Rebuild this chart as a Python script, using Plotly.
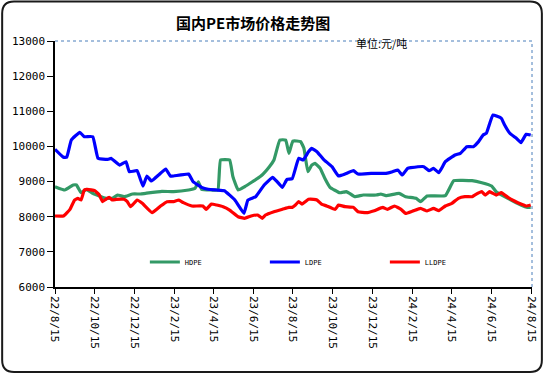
import plotly.graph_objects as go

# ---------------- data ----------------
hdpe_dates = ["2022-08-15","2022-08-30","2022-09-12","2022-09-17","2022-09-24","2022-10-02","2022-10-12",
              "2022-10-22","2022-11-01","2022-11-11","2022-11-19","2022-11-29","2022-12-12","2022-12-24",
              "2023-01-01","2023-01-26","2023-02-13","2023-03-08","2023-03-18","2023-03-23","2023-03-28",
              "2023-04-12","2023-04-22","2023-04-26","2023-05-10","2023-05-15","2023-05-23","2023-06-02",
              "2023-06-14","2023-06-27","2023-07-10","2023-07-17","2023-07-26","2023-08-04","2023-08-09",
              "2023-08-15","2023-08-27","2023-09-01","2023-09-07","2023-09-13","2023-09-18","2023-09-26",
              "2023-10-03","2023-10-11","2023-10-26","2023-11-05","2023-11-10","2023-11-18","2023-12-01",
              "2023-12-21","2023-12-28","2024-01-05","2024-01-25","2024-02-04","2024-02-20","2024-02-27",
              "2024-03-08","2024-04-05","2024-04-18","2024-05-16","2024-05-31","2024-06-15","2024-06-22",
              "2024-07-10","2024-07-30","2024-08-09","2024-08-14"]
hdpe_vals = [8853,8760,8902,8902,8683,8779,8665,
             8590,8523,8523,8617,8570,8646,8646,
             8665,8722,8712,8760,8807,8995,8779,
             8760,8760,9614,9614,9140,8760,8853,
             8995,9158,9424,9614,10183,10183,9803,
             10155,10136,9946,9280,9470,9519,9376,
             9092,8836,8683,8712,8665,8570,8617,
             8617,8646,8598,8665,8570,8523,8428,
             8590,8598,9025,9025,8968,8873,8712,
             8523,8333,8266,8266]

ldpe_dates = ["2022-08-15","2022-08-28","2022-09-02","2022-09-09","2022-09-22","2022-09-29","2022-10-12",
              "2022-10-20","2022-11-04","2022-11-09","2022-11-22","2022-12-02","2022-12-07","2022-12-19",
              "2022-12-28","2023-01-03","2023-01-10","2023-01-21","2023-02-01","2023-02-08","2023-02-13",
              "2023-03-08","2023-03-15","2023-03-28","2023-04-07","2023-04-20","2023-05-02","2023-05-18",
              "2023-06-01","2023-06-07","2023-06-19","2023-07-02","2023-07-15","2023-07-22","2023-07-30",
              "2023-08-06","2023-08-14","2023-08-24","2023-08-31","2023-09-08","2023-09-13","2023-09-21",
              "2023-10-01","2023-10-14","2023-10-24","2023-11-03","2023-11-16","2023-11-23","2023-12-13",
              "2024-01-05","2024-01-15","2024-01-23","2024-01-30","2024-02-07","2024-02-12","2024-03-03",
              "2024-03-11","2024-03-18","2024-03-26","2024-04-05","2024-04-20","2024-04-28","2024-05-08",
              "2024-05-18","2024-05-26","2024-06-02","2024-06-07","2024-06-17","2024-06-30","2024-07-05",
              "2024-07-13","2024-07-23","2024-07-30","2024-08-07","2024-08-14"]
ldpe_vals = [9918,9690,9690,10183,10400,10277,10277,
             9662,9633,9662,9470,9565,9280,9310,
             8873,9158,9016,9187,9357,9158,9158,
             9215,8995,8836,8780,8760,8740,8475,
             8096,8475,8570,8902,9121,8995,8836,
             9063,9082,9662,9614,9850,9946,9850,
             9633,9424,9158,9215,9310,9215,9234,
             9234,9280,9329,9187,9376,9395,9424,
             9310,9376,9252,9565,9756,9803,9993,
             9993,10136,10325,10374,10894,10800,10610,
             10374,10231,10108,10345,10325]

lldpe_dates = ["2022-08-15","2022-08-28","2022-09-07","2022-09-14","2022-09-19","2022-09-24","2022-09-29",
               "2022-10-04","2022-10-15","2022-10-22","2022-10-27","2022-11-01","2022-11-06","2022-11-11",
               "2022-11-17","2022-11-29","2022-12-04","2022-12-09","2022-12-19","2022-12-27","2023-01-11",
               "2023-01-24","2023-02-03","2023-02-13","2023-02-21","2023-02-28","2023-03-13","2023-03-30",
               "2023-04-04","2023-04-12","2023-04-20","2023-04-30","2023-05-10","2023-05-23","2023-06-02",
               "2023-06-12","2023-06-22","2023-06-29","2023-07-04","2023-07-17","2023-07-30","2023-08-09",
               "2023-08-14","2023-08-19","2023-08-24","2023-08-29","2023-09-08","2023-09-16","2023-09-21",
               "2023-09-28","2023-10-06","2023-10-19","2023-10-24","2023-11-03","2023-11-16","2023-11-23",
               "2023-12-06","2023-12-18","2023-12-31","2024-01-07","2024-01-18","2024-01-28","2024-02-04",
               "2024-02-15","2024-02-27","2024-03-08","2024-03-18","2024-03-26","2024-04-05","2024-04-15",
               "2024-04-25","2024-05-05","2024-05-16","2024-05-20","2024-05-31","2024-06-05","2024-06-12",
               "2024-06-22","2024-06-30","2024-07-10","2024-07-20","2024-07-30","2024-08-07","2024-08-14"]
lldpe_vals = [8020,8020,8209,8475,8523,8475,8760,
              8779,8741,8617,8428,8495,8551,8475,
              8495,8495,8428,8285,8475,8381,8115,
              8305,8428,8430,8475,8400,8305,8305,
              8210,8360,8333,8285,8190,8000,7955,
              8020,8048,7955,8048,8143,8210,8266,
              8266,8333,8428,8360,8495,8495,8475,
              8360,8305,8210,8333,8285,8266,8143,
              8115,8172,8266,8210,8305,8210,8096,
              8162,8238,8162,8238,8172,8305,8381,
              8523,8570,8570,8617,8712,8617,8712,
              8617,8683,8551,8447,8360,8305,8333]

tick_dates = ["2022-08-15","2022-10-15","2022-12-15","2023-02-15","2023-04-15","2023-06-15","2023-08-15",
              "2023-10-15","2023-12-15","2024-02-15","2024-04-15","2024-06-15","2024-08-15"]
tick_labels = ["22/8/15","22/10/15","22/12/15","23/2/15","23/4/15","23/6/15","23/8/15",
               "23/10/15","23/12/15","24/2/15","24/4/15","24/6/15","24/8/15"]
y_ticks = [6000,7000,8000,9000,10000,11000,12000,13000]
y_labels = ["6000","7000","8000","9000","10000","11000","12000","13000"]

title_text = "国内PE市场价格走势图"
unit_text = "单位:元/吨"

# ---------------- figure ----------------
W, H = 550, 374
L, R, T, B = 55, 12, 41, 87
pw, ph = W - L - R, H - T - B

def px(x):
    return (x - L) / pw

def py(y):
    return (H - B - y) / ph

fig = go.Figure()
series = [("HDPE", hdpe_dates, hdpe_vals, "#339966"),
          ("LDPE", ldpe_dates, ldpe_vals, "#0000FF"),
          ("LLDPE", lldpe_dates, lldpe_vals, "#FF0000")]
for name, d, v, c in series:
    fig.add_trace(go.Scatter(x=d, y=v, name=name, mode="lines",
                             line=dict(color=c, width=3.2, shape="spline", smoothing=0.3)))

mono = "DejaVu Sans Mono"
fig.update_layout(
    width=W, height=H,
    margin=dict(l=L, r=R, t=T, b=B),
    paper_bgcolor="white", plot_bgcolor="white",
    showlegend=True,
    legend=dict(orientation="h", x=px(146), y=py(262), xanchor="left", yanchor="middle",
                font=dict(family=mono, size=7, color="black"),
                entrywidth=75, entrywidthmode="pixels",
                bgcolor="rgba(0,0,0,0)", itemwidth=30, tracegroupgap=0),
    xaxis=dict(type="date", range=["2022-08-15", "2024-08-16"],
               tickmode="array", tickvals=tick_dates, ticktext=tick_labels,
               tickangle=90, ticks="outside", ticklen=5, tickcolor="black",
               showline=True, linecolor="black", linewidth=1.5, showgrid=False, zeroline=False,
               tickfont=dict(family=mono, size=11, color="black")),
    yaxis=dict(range=[6000, 13000], tickmode="array", tickvals=y_ticks, ticktext=y_labels,
               ticks="outside", ticklen=6, tickcolor="black",
               showline=True, linecolor="black", linewidth=1.5, showgrid=False, zeroline=False,
               tickfont=dict(family=mono, size=11, color="black")),
    font=dict(family="Noto Sans CJK SC"),
)

# dotted right and top borders of the plot area
fig.add_shape(type="line", xref="paper", yref="paper", x0=0, x1=1, y0=1, y1=1,
              line=dict(color="#4a7ebb", width=1, dash="dot"))
fig.add_shape(type="line", xref="paper", yref="paper", x0=1, x1=1, y0=0, y1=1,
              line=dict(color="#4a7ebb", width=1, dash="dot"))

# rounded outer frame
x0, x1, y0, y1, r = 1.5, 548, 1.5, 372, 12
path = (f"M {px(x0 + r)},{py(y0)} L {px(x1 - r)},{py(y0)} Q {px(x1)},{py(y0)} {px(x1)},{py(y0 + r)} "
        f"L {px(x1)},{py(y1 - r)} Q {px(x1)},{py(y1)} {px(x1 - r)},{py(y1)} "
        f"L {px(x0 + r)},{py(y1)} Q {px(x0)},{py(y1)} {px(x0)},{py(y1 - r)} "
        f"L {px(x0)},{py(y0 + r)} Q {px(x0)},{py(y0)} {px(x0 + r)},{py(y0)} Z")
fig.add_shape(type="path", xref="paper", yref="paper", path=path,
              line=dict(color="#1a1a1a", width=2))

fig.add_annotation(text="<b>" + title_text + "</b>", xref="paper", yref="paper",
                   x=px(255), y=py(22), xanchor="center", yanchor="middle", showarrow=False,
                   font=dict(family="Noto Sans CJK SC", size=15, color="black"))
fig.add_annotation(text=unit_text, xref="paper", yref="paper",
                   x=px(358), y=py(43), xanchor="left", yanchor="middle", showarrow=False,
                   font=dict(family="Noto Sans CJK SC", size=11, color="black"))

fig.write_html("out.html", config={"displayModeBar": False},
               post_script="document.body.style.margin='0';document.body.style.overflow='hidden';")
